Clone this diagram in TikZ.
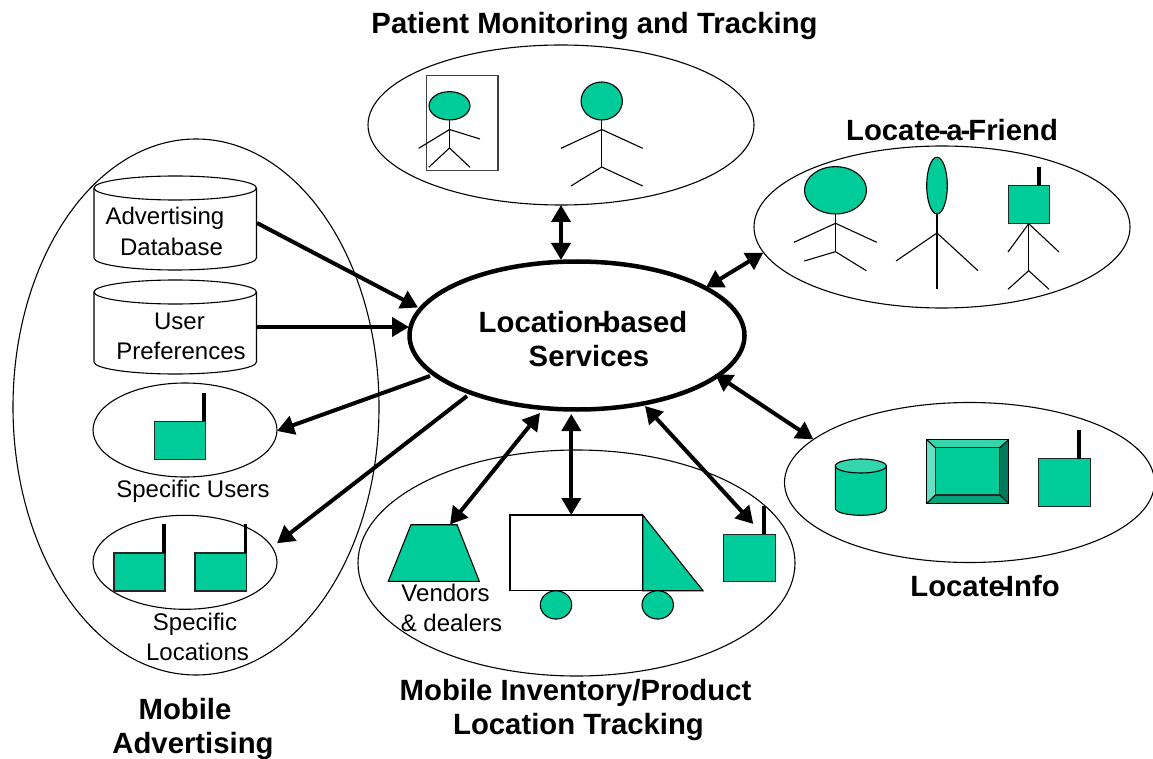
\documentclass[tikz,border=0pt]{standalone}
\usepackage{fontspec}
\setmainfont{Liberation Sans}
\usetikzlibrary{arrows.meta,shapes.geometric}
\definecolor{grn}{HTML}{00CC99}
\definecolor{grnT}{HTML}{33D6AD}
\definecolor{grnL}{HTML}{66E0C2}
\definecolor{grnR}{HTML}{007A5C}
\definecolor{grnB}{HTML}{00A37A}
\tikzset{
  thin line/.style={draw=black,line width=1.1pt},
  oval/.style 2 args={ellipse,thin line,inner sep=0pt,outer sep=0pt,minimum width=#1 pt,minimum height=#2 pt},
  head/.style 2 args={oval={#1}{#2},fill=grn},
  box/.style 2 args={rectangle,draw=black!85,line width=1.1pt,fill=grn,inner sep=0pt,outer sep=0pt,minimum width=#1 pt,minimum height=#2 pt},
  antenna/.style={line width=3.8pt,draw=black},
  limb/.style={thin line},
  oneway/.style={line width=4pt,-{Triangle[width=19pt,length=17pt]}},
  twoway/.style={line width=4pt,{Triangle[width=19pt,length=17pt]}-{Triangle[width=19pt,length=17pt]}},
  plain label/.style={anchor=base,inner sep=0pt,font=\fontsize{24}{24}\selectfont},
  bold label/.style={anchor=base,inner sep=0pt,font=\fontsize{29.3}{29.3}\selectfont\bfseries},
}
\newcommand{\tighthy}[1]{\kern-#1pt-\kern-#1pt }
\begin{document}
\begin{tikzpicture}[x=1pt,y=-1pt]
\useasboundingbox (0,0) rectangle (1153,759);
% containers
\node[oval={386}{160}] (pm) at (561,125) {};
\node[oval={376}{162}] (friend) at (942,227) {};
\node[oval={370}{160}] (info) at (969.5,482.5) {};
\node[oval={437}{226}] (inv) at (576.5,563) {};
\node[oval={366}{536}] (adv) at (196,407) {};
\node[oval={184}{94}] (users) at (185,430) {};
\node[oval={184}{94}] (locs) at (185,562.3) {};
\node[ellipse,draw=black,line width=4.5pt,inner sep=0pt,outer sep=0pt,minimum width=335pt,minimum height=148pt] (lbs) at (577,335.5) {};
% patient monitoring figures
\node[rectangle,draw=black!75,line width=1.3pt,inner sep=0pt,outer sep=0pt,minimum width=71.3pt,minimum height=94.6pt] (bed) at (462.3,123) {};
\node[head={41}{28.3}] (h1) at (449.5,105.8) {};
\draw[limb] (h1.south) -- (449.5,148) coordinate (hip1);
\draw[limb] (418.7,148.3) -- (449.5,129.5) -- (480,139);
\draw[limb] (428.7,167.3) -- (hip1) -- (470,167.3);
\node[head={41.3}{38}] (h2) at (601.7,101) {};
\draw[limb] (h2.south) -- (601.7,167) coordinate (hip2);
\draw[limb] (561,148.3) -- (601.7,129.5) -- (642.7,148.3);
\draw[limb] (571,186) -- (hip2) -- (642.7,186);
% locate-a-friend figures
\node[head={62}{47.3}] (h3) at (835.5,190.3) {};
\draw[limb] (h3.south) -- (835.5,251.7) coordinate (hip3);
\draw[limb] (794,242.3) -- (835.5,223.3) -- (876.7,242.3);
\draw[limb] (804.3,261) -- (hip3) -- (866.3,270.7);
\node[head={20.6}{56.7}] (h4) at (937,185.6) {};
\draw[limb] (h4.south) -- (937,289.3);
\draw[limb] (896,261) -- (937,233) -- (978,270.7);
\node[box={41.3}{38}] (s3) at (1028.7,204.7) {};
\draw[antenna] (1039,167) -- (1039,185.7);
\draw[limb] (s3.south) -- (1028.7,270.7) coordinate (hip5);
\draw[limb] (1008,252) -- (s3.south) -- (1059,252);
\draw[limb] (1008,289.3) -- (hip5) -- (1049,289.3);
% locate-info figures
\draw[thin line,fill=grn] (835.3,466) -- (835.3,508.3) .. controls (835.3,512.2) and (846.7,515.3) .. (860.8,515.3) .. controls (874.9,515.3) and (886.3,512.2) .. (886.3,508.3) -- (886.3,466) -- cycle;
\node[oval={51}{14},fill=grnT] (can) at (860.8,466) {};
\fill[grnT] (926.7,439.7) -- (1008.7,439.7) -- (999.7,447.7) -- (935.3,447.7) -- cycle;
\fill[grnL] (926.7,439.7) -- (935.3,447.7) -- (935.3,495) -- (926.7,503.3) -- cycle;
\fill[grnR] (1008.7,439.7) -- (999.7,447.7) -- (999.7,495) -- (1008.7,503.3) -- cycle;
\fill[grnB] (926.7,503.3) -- (935.3,495) -- (999.7,495) -- (1008.7,503.3) -- cycle;
\node[box={64.4}{47.3}] (panel) at (967.5,471.35) {};
\draw[thin line] (926.7,439.7) rectangle (1008.7,503.3);
\draw[thin line] (926.7,439.7) -- (935.3,447.7) (1008.7,439.7) -- (999.7,447.7) (926.7,503.3) -- (935.3,495) (1008.7,503.3) -- (999.7,495);
\node[box={51.7}{47.6}] (s4) at (1064.2,482.5) {};
\draw[antenna] (1079,430) -- (1079,458.7);
% inventory figures
\draw[thin line,fill=grn] (411,524.7) -- (457,524.7) -- (479.3,581.3) -- (388.3,581.3) -- cycle;
\coordinate (trap) at (450,524.5);
\node[rectangle,thin line,fill=white,inner sep=0pt,outer sep=0pt,minimum width=132.7pt,minimum height=75.7pt] (truck) at (576.35,552.85) {};
\coordinate (trucktop) at (571.3,515);
\draw[thin line,fill=grn] (642.7,515) -- (703,590.7) -- (642.7,590.7) -- cycle;
\node[head={31.4}{28.3}] (w1) at (556,604.9) {};
\node[head={31.4}{28.3}] (w2) at (657.7,604.9) {};
\node[box={51.7}{47.3}] (s5) at (749.2,557.7) {};
\draw[antenna] (764,506) -- (764,534);
\coordinate (s5tip) at (753.3,524);
% mobile advertising figures
\draw[thin line] (94,188) -- (94,258) .. controls (94,264.6) and (130.4,270) .. (175.2,270) .. controls (220,270) and (256.5,264.6) .. (256.5,258) -- (256.5,188);
\node[oval={162.5}{24}] (adbtop) at (175.25,188) {};
\draw[thin line] (94,292) -- (94,362) .. controls (94,368.6) and (130.4,374) .. (175.2,374) .. controls (220,374) and (256.5,368.6) .. (256.5,362) -- (256.5,292);
\node[oval={162.5}{24}] (uprtop) at (175.25,292) {};
\coordinate (adbE) at (257,223);
\coordinate (uprE) at (257,327);
\node[box={51.4}{37.7}] (s1) at (180,440.2) {};
\draw[antenna] (204,393) -- (204,421.3);
\node[box={51}{38}] (s2a) at (139.5,572) {};
\draw[antenna] (164,524) -- (164,553);
\node[box={51.3}{38}] (s2b) at (220.6,572) {};
\draw[antenna] (245.5,524) -- (245.5,553);
% connectors
\coordinate (lbsA) at (418,307.5);
\coordinate (lbsB) at (409,327);
\coordinate (lbsC) at (430,376);
\coordinate (lbsD) at (467,396);
\coordinate (lbsE) at (540,413);
\coordinate (lbsF) at (571.3,414);
\coordinate (lbsG) at (645,406);
\coordinate (lbsH) at (715,374);
\coordinate (lbsI) at (706,287.5);
\coordinate (lbsJ) at (561,260);
\coordinate (usersE) at (277,431);
\coordinate (locsE) at (277,543.3);
\coordinate (friendW) at (763.3,252.7);
\coordinate (infoW) at (813.3,439.3);
\draw[oneway] (adbE) -- (lbsA);
\draw[oneway] (uprE) -- (lbsB);
\draw[oneway] (lbsC) -- (usersE);
\draw[oneway] (lbsD) -- (locsE);
\draw[twoway] (lbsE) -- (trap);
\draw[twoway] (lbsF) -- (trucktop);
\draw[twoway] (lbsG) -- (s5tip);
\draw[twoway] (lbsH) -- (infoW);
\draw[twoway] (lbsI) -- (friendW);
\draw[twoway] (lbsJ) -- (pm.south);
% labels
\node[bold label] (t1) at (594.5,33.5) {Patient Monitoring and Tracking};
\node[bold label] (t2) at (952,141) {Locate\tighthy{2}a\tighthy{2}Friend};
\node[bold label] (t3) at (583,332.7) {Location\tighthy{4}based};
\node[bold label] (t4) at (589,366.7) {Services};
\node[bold label] (t5) at (985,596.7) {Locate\tighthy{4.3}Info};
\node[bold label] (t6) at (575.5,700.5) {Mobile Inventory/Product};
\node[bold label] (t7) at (578.5,734.5) {Location Tracking};
\node[bold label] (t8) at (185,719.5) {Mobile};
\node[bold label] (t9) at (193,753) {Advertising};
\node[plain label] (p1) at (165,225) {Advertising};
\node[plain label] (p2) at (171.5,255) {Database};
\node[plain label] (p3) at (179.5,329.3) {User};
\node[plain label] (p4) at (181,359) {Preferences};
\node[plain label] (p5) at (193,497.7) {Specific Users};
\node[plain label] (p6) at (195,630) {Specific};
\node[plain label] (p7) at (197.5,660) {Locations};
\node[plain label] (p8) at (445.5,601.7) {Vendors};
\node[plain label] (p9) at (451.5,631.7) {\& dealers};
\end{tikzpicture}
\end{document}
